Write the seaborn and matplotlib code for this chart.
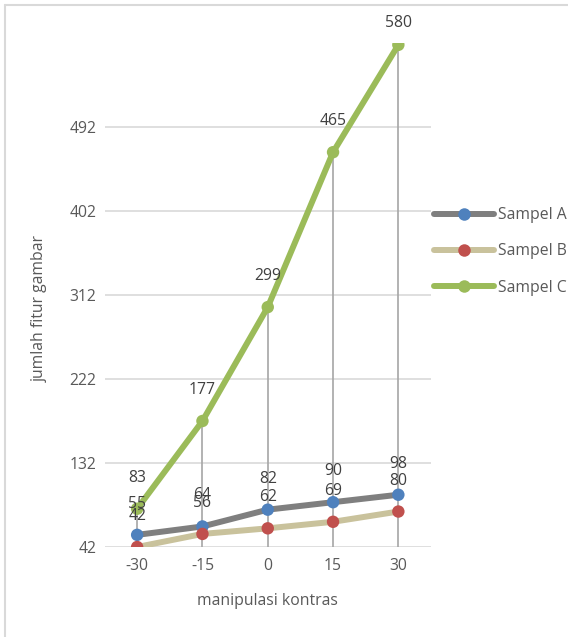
import matplotlib
matplotlib.use("Agg")
import matplotlib.pyplot as plt
import seaborn as sns
import pandas as pd
from matplotlib.lines import Line2D

# Data
contrast = ["-30", "-15", "0", "15", "30"]
sampel_a = [55, 64, 82, 90, 98]
sampel_b = [42, 56, 62, 69, 80]
sampel_c = [83, 177, 299, 465, 580]
series_names = ["Sampel A", "Sampel B", "Sampel C"]
y_ticks = [42, 132, 222, 312, 402, 492]
y_range = (42, 582)

line_colors = {"Sampel A": "#7f7f7f", "Sampel B": "#c9c29c", "Sampel C": "#9bbb59"}
marker_colors = {"Sampel A": "#4f81bd", "Sampel B": "#c0504d", "Sampel C": "#9bbb59"}

FS = 11.3

sns.set_theme(style="white")
plt.rcParams["font.family"] = ["Open Sans", "DejaVu Sans"]

rows = []
for name, vals in zip(series_names, [sampel_a, sampel_b, sampel_c]):
    for i, v in enumerate(vals):
        rows.append({"series": name, "pos": i, "value": v})
df = pd.DataFrame(rows)

W, H = 568, 637
fig = plt.figure(figsize=(W / 100, H / 100), dpi=100)
left, right, bottom, top = 104.5, 431, 547, 43
ax = fig.add_axes([left / W, (H - bottom) / H, (right - left) / W, (bottom - top) / H])
ax.set_xlim(-0.5, len(contrast) - 0.5)
ax.set_ylim(*y_range)

# gridlines
ax.set_yticks(y_ticks)
ax.yaxis.grid(True, color="#d9d9d9", lw=1.2)
ax.set_axisbelow(True)
for s in ax.spines.values():
    s.set_visible(False)

# drop lines from the highest point of each category to the axis
tops = df.groupby("pos")["value"].max()
ax.vlines(tops.index, y_range[0], tops.values, color="#a6a6a6", lw=1.2, zorder=1)

sns.lineplot(data=df, x="pos", y="value", hue="series", palette=line_colors,
             lw=4.3, legend=False, ax=ax, sort=False, zorder=2)
sns.scatterplot(data=df, x="pos", y="value", hue="series", palette=marker_colors,
                s=80, linewidth=0, legend=False, ax=ax, zorder=3)

# value labels above each point, kept inside the chart area
fig_top_px = H - 23
for _, r in df.iterrows():
    px = ax.transData.transform((r["pos"], r["value"]))[1]
    off = min(31, fig_top_px - px)
    ax.annotate(str(r["value"]), (r["pos"], r["value"]), xytext=(0, off * 72 / 100),
                textcoords="offset points", ha="center", va="center",
                fontsize=FS, color="#404040", zorder=4)

ax.set_xticks(range(len(contrast)))
ax.set_xticklabels(contrast)
ax.tick_params(axis="x", length=0, pad=8, labelsize=FS, labelcolor="#595959")
ax.tick_params(axis="y", length=0, pad=6, labelsize=FS, labelcolor="#595959")

ax.set_xlabel("manipulasi kontras", fontsize=FS, color="#595959")
ax.xaxis.set_label_coords(0.5, (bottom - 593) / (bottom - top))
ax.set_ylabel("jumlah fitur gambar", fontsize=FS, color="#595959")
ax.yaxis.set_label_coords((48 - left) / (right - left), (bottom - 308) / (bottom - top))

handles = [Line2D([0], [0], color=line_colors[n], lw=4.3, marker="o",
                  markersize=9, markerfacecolor=marker_colors[n],
                  markeredgewidth=0) for n in series_names]
fig.legend(handles, series_names, loc="upper left", bbox_to_anchor=(434 / W, 1 - 207 / H),
           frameon=False, fontsize=FS, handlelength=3.8, handletextpad=0.25,
           labelspacing=1.3, borderpad=0, borderaxespad=0, labelcolor="#595959")

# chart border
fig.add_artist(Line2D([5 / W, 5 / W], [0, 1 - 5 / H], color="#d9d9d9", lw=1.5))
fig.add_artist(Line2D([5 / W, 1], [1 - 5 / H, 1 - 5 / H], color="#d9d9d9", lw=1.5))

fig.savefig("out.png", dpi=100)
